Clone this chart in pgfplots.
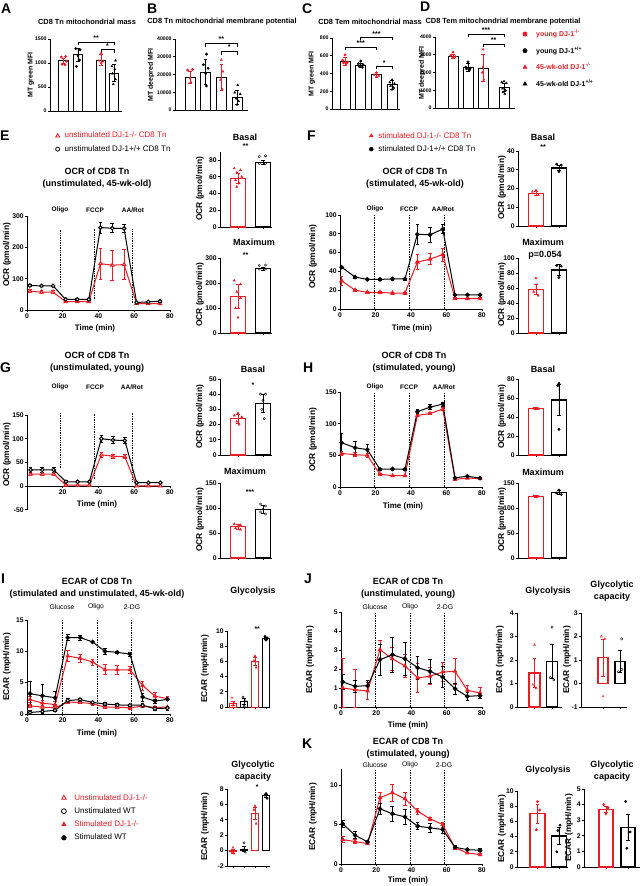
\documentclass[border=0pt]{standalone}
\usepackage{fontspec}
\setmainfont{Liberation Sans}
\usepackage{pgfplots}
\pgfplotsset{compat=1.18}
\definecolor{myred}{RGB}{236,28,36}
\pgfplotsset{
  base/.style={scale only axis, axis x line*=bottom, axis y line*=left, clip=false,
    axis line style={line width=0.9pt}, tick style={line width=0.8pt, black},
    tick align=outside, major tick length=2.2pt, scaled ticks=false,
    /pgf/number format/assume math mode=true, /pgf/number format/1000 sep={},
    tick label style={font=\bfseries\fontsize{6.8}{7}\selectfont, inner sep=1pt}},
  pos/.style n args={4}{at={(#1pt,-#2pt)}, anchor=south west, width=#3pt, height=#4pt},
  eb/.style={error bars/y dir=both, error bars/y explicit,
    error bars/error bar style={line width=0.7pt, solid},
    error bars/error mark options={rotate=90, mark size=1.8pt, line width=0.7pt, solid}},
  lc/.style={base, xmin=0, xmax=80, xtick={0,20,40,60,80}},
  rl/.style={myred, line width=1pt, mark=triangle*, mark size=2pt, eb, forget plot},
  kl/.style={black, line width=1pt, mark=*, mark size=1.8pt, eb, forget plot},
  open/.style={mark options={fill=white}},
  bx/.style={base, xtick={1,2}, xticklabels={}},
  barlw/.style={line width=1.3pt},
  barst/.style={ybar, bar shift=0pt, fill=white, forget plot, eb, barlw},
  pts/.style={only marks, mark size=1.2pt, forget plot},
  sm/.style={tick label style={font=\bfseries\fontsize{5.2}{6}\selectfont}, axis line style={line width=0.7pt}, barlw/.style={line width=0.8pt}},
  lg/.style n args={3}{legend style={draw=none, fill=none, at={(#1,#2)}, anchor=north west, inner sep=0pt, row sep=2pt, font=\fontsize{8}{9}\selectfont, /tikz/every odd column/.append style={column sep=#3}}, legend cell align=left},
}
\newcommand{\PL}[3]{\node[anchor=base west, inner sep=0pt, font=\bfseries\fontsize{14}{14}\selectfont] at (#1pt,-#2pt) {#3};}
\newcommand{\TT}[3]{\node[align=center, font=\bfseries\fontsize{9}{11.5}\selectfont] at (#1pt,-#2pt) {#3};}
\newcommand{\TS}[3]{\node[align=center, font=\bfseries\fontsize{7.4}{9}\selectfont] at (#1pt,-#2pt) {#3};}
\newcommand{\YL}[3]{\node[rotate=90, font=\bfseries\fontsize{8.4}{9}\selectfont] at (#1pt,-#2pt) {#3};}
\newcommand{\YS}[3]{\node[rotate=90, font=\bfseries\fontsize{7}{7}\selectfont] at (#1pt,-#2pt) {#3};}
\newcommand{\XL}[3]{\node[font=\bfseries\fontsize{8}{9}\selectfont] at (#1pt,-#2pt) {#3};}
\newcommand{\SL}[3]{\node[font=\bfseries\fontsize{6.5}{7}\selectfont] at (#1pt,-#2pt) {#3};}
\newcommand{\SR}[3]{\node[font=\fontsize{6.8}{7}\selectfont] at (#1pt,-#2pt) {#3};}
\newcommand{\VD}[3]{\draw[densely dotted, line width=0.7pt] (axis cs:#1,#2) -- (axis cs:#1,#3);}
\newcommand{\ST}[3]{\node[font=\bfseries\fontsize{7}{7}\selectfont] at (axis cs:#1,#2) {#3};}
\newcommand{\BR}[4]{\draw[line width=0.6pt] (axis cs:#1,#4) -- (axis cs:#1,#3) -- (axis cs:#2,#3) -- (axis cs:#2,#4);}
\newcommand{\BAR}[6]{\addplot[barst, bar width=#1pt, draw=#2, error bars/error bar style={#3}] coordinates {(#4,#5) +- (0,#6)};}
\begin{document}
\begin{tikzpicture}
\useasboundingbox (0,0) rectangle (643pt,-886pt);
\fill[white] (0,0) rectangle (643pt,-886pt);
% ---------------- A
\begin{axis}[base, sm, pos={50}{111}{72}{72}, xmin=0.064, xmax=5.05, ymin=0, ymax=1500, ytick={0,500,1000,1500}, xtick=\empty]
\BAR{9.5}{black}{myred}{1}{1047}{60}
\BAR{9.5}{black}{black}{2}{1172}{130}
\BAR{9.5}{black}{myred}{3.6}{1060}{110}
\BAR{9.5}{black}{black}{4.5}{788}{180}
\addplot[pts, mark=*, myred] coordinates {(0.85,1125)(1.15,1135)(0.9,975)(1.1,965)(1.2,1035)};
\addplot[pts, mark=*, black] coordinates {(1.85,1300)(2.15,1275)(2,1150)(2.1,1060)(1.9,930)};
\addplot[pts, mark=triangle*, myred] coordinates {(3.6,1210)(3.45,1050)(3.75,1030)(3.6,1000)};
\addplot[pts, mark=triangle*, black] coordinates {(4.6,1050)(4.35,930)(4.55,870)(4.4,780)(4.6,660)(4.45,560)};
\BR{2}{4.5}{1430}{1370}\ST{3.25}{1510}{**}
\BR{3.6}{4.5}{1277}{1210}\ST{4.05}{1350}{*}
\end{axis}
% ---------------- B
\begin{axis}[base, sm, pos={175}{110}{73}{71}, xmin=0.043, xmax=4.7, ymin=0, ymax=40000, ytick={0,10000,20000,30000,40000}, xtick=\empty]
\BAR{10}{black}{myred}{1}{18490}{3200}
\BAR{10}{black}{black}{2}{21300}{7000}
\BAR{10}{black}{myred}{3}{18500}{7200}
\BAR{10}{black}{black}{4}{7170}{4000}
\addplot[pts, mark=*, myred] coordinates {(0.85,22500)(1.15,22800)(1,18000)(1.05,15500)};
\addplot[pts, mark=*, black] coordinates {(2.05,31500)(1.85,25500)(2.15,23500)(2,20500)(2.05,13500)};
\addplot[pts, mark=triangle*, myred] coordinates {(3,28300)(3.1,21700)(2.95,17000)(3.05,11700)};
\addplot[pts, mark=triangle*, black] coordinates {(4.05,14000)(3.85,9800)(4.2,9000)(3.95,6500)(4.1,5000)(4,3000)};
\BR{2}{4}{37700}{35700}\ST{3}{39900}{**}
\BR{3}{4}{33000}{31000}\ST{3.5}{35200}{*}
\end{axis}
% ---------------- C
\begin{axis}[base, sm, pos={332}{109}{68}{71}, xmin=0.17, xmax=4.5, ymin=0, ymax=800, ytick={0,200,400,600,800}, xtick=\empty]
\BAR{10}{black}{myred}{1}{537}{40}
\BAR{10}{black}{black}{2}{492}{25}
\BAR{10}{black}{myred}{3}{387}{30}
\BAR{10}{black}{black}{4}{274}{50}
\addplot[pts, mark=*, myred] coordinates {(1,610)(0.85,550)(1.15,530)(0.9,520)(1.1,515)};
\addplot[pts, mark=*, black] coordinates {(2,540)(1.85,510)(2.15,500)(1.9,480)(2.1,470)};
\addplot[pts, mark=triangle*, myred] coordinates {(3,410)(2.85,385)(3.15,375)(3,365)};
\addplot[pts, mark=triangle*, black] coordinates {(4,330)(3.85,300)(4.15,285)(3.9,260)(4.1,240)(4,220)};
\BR{1}{3}{699}{665}\ST{2}{740}{***}
\BR{2}{4}{807}{775}\ST{3}{848}{***}
\BR{3}{4}{481}{450}\ST{3.5}{522}{*}
\end{axis}
% ---------------- D
\begin{axis}[base, sm, pos={435}{108}{80}{71}, xmin=-0.2, xmax=5.13, ymin=0, ymax=4000, ytick={0,1000,2000,3000,4000}, xtick=\empty,
  lg={1.095}{1.13}{7pt}, legend style={row sep=4.5pt, font=\bfseries\fontsize{7}{8}\selectfont}]
\BAR{10}{black}{myred}{1}{2911}{120}
\BAR{10}{black}{black}{2}{2291}{200}
\BAR{10}{black}{myred}{3}{2253}{750}
\BAR{10}{black}{black}{4.4}{1164}{250}
\addplot[pts, mark=*, myred] coordinates {(1,3150)(0.85,2950)(1.15,2900)(1,2850)};
\addplot[pts, mark=*, black] coordinates {(2,2600)(1.85,2300)(2.15,2250)(1.9,2200)(2.1,2150)};
\addplot[pts, mark=triangle*, myred] coordinates {(3,3300)(3,2300)(2.95,2000)(3.05,1600)};
\addplot[pts, mark=triangle*, black] coordinates {(4.4,1500)(4.25,1450)(4.55,1400)(4.3,1100)(4.5,1000)(4.35,900)(4.45,800)};
\BR{2}{4.4}{4170}{4000}\ST{3.2}{4390}{***}
\BR{3}{4.4}{3605}{3430}\ST{3.7}{3830}{**}
\addlegendimage{only marks, mark=*, myred, mark size=2.2pt}
\addlegendentry{\textcolor{myred}{young DJ-1\textsuperscript{-/-}}}
\addlegendimage{only marks, mark=*, black, mark size=2.2pt}
\addlegendentry{young DJ-1\textsuperscript{+/+}}
\addlegendimage{only marks, mark=triangle*, myred, mark size=2.4pt}
\addlegendentry{\textcolor{myred}{45-wk-old DJ-1\textsuperscript{-/-}}}
\addlegendimage{only marks, mark=triangle*, black, mark size=2.4pt}
\addlegendentry{45-wk-old DJ-1\textsuperscript{+/+}}
\end{axis}
% ---------------- E line
\begin{axis}[lc, pos={27}{310}{143}{94}, ymin=0, ymax=300, ytick={0,100,200,300}, lg={0.199}{1.915}{3pt}]
\VD{18.5}{75}{258}\VD{37.7}{35}{258}\VD{58.9}{22}{258}
\addplot[rl, open, mark=triangle*] coordinates {(1.6,60)+-(0,5) (8.1,57)+-(0,5) (14.6,57)+-(0,5) (21.6,26.5)+-(0,3) (28.1,26.5)+-(0,3) (34.6,27)+-(0,3) (41.1,148)+-(0,49) (47.7,143)+-(0,47) (54.3,145)+-(0,47) (61.3,21)+-(0,3) (67.8,20)+-(0,3) (74.4,20)+-(0,3)};
\addplot[kl, open] coordinates {(1.6,78)+-(0,3) (8.1,77)+-(0,2) (14.6,77)+-(0,2) (21.6,34)+-(0,3) (28.1,34)+-(0,3) (34.6,34)+-(0,3) (41.1,263)+-(0,17) (47.7,261)+-(0,14) (54.3,260)+-(0,12) (61.3,24)+-(0,3) (67.8,26)+-(0,3) (74.4,28)+-(0,3)};
\addlegendimage{only marks, mark=triangle, myred, mark size=2.2pt, line width=0.8pt}
\addlegendentry{\textcolor{myred}{unstimulated DJ-1-/- CD8 Tn}}
\addlegendimage{only marks, mark=o, black, mark size=2pt, line width=0.8pt}
\addlegendentry{unstimulated DJ-1+/+ CD8 Tn}
\end{axis}
% E Basal
\begin{axis}[bx, pos={220}{227}{52}{75.4}, xmin=0.28, xmax=2.36, ymin=0, ymax=90, ytick={0,20,40,60,80}]
\BAR{15}{myred}{myred}{1}{58}{6}
\BAR{15}{black}{black}{2}{77}{2}
\addplot[pts, mark=triangle*, myred] coordinates {(0.85,70)(1.1,68)(0.95,65)(1.15,60)(0.9,56)(1.05,52)(0.95,48)};
\addplot[pts, mark=o, black] coordinates {(1.85,84)(2.1,85)(1.85,76)(2.1,76)};
\ST{1.3}{97}{**}
\end{axis}
% E Maximum
\begin{axis}[bx, pos={220}{333}{52}{75}, xmin=0.28, xmax=2.36, ymin=0, ymax=300, ytick={0,100,200,300}]
\BAR{15}{myred}{myred}{1}{145}{48}
\BAR{15}{black}{black}{2}{258}{6}
\addplot[pts, mark=triangle*, myred] coordinates {(0.85,210)(1.1,195)(0.95,165)(1.1,140)(0.9,100)(1.0,62)};
\addplot[pts, mark=o, black] coordinates {(1.85,270)(2.1,272)(1.85,256)(2.1,256)};
\ST{1.3}{312}{**}
\end{axis}
% ---------------- F line
\begin{axis}[lc, pos={340}{309}{142}{94}, ymin=0, ymax=100, ytick={0,20,40,60,80,100}, lg={0.205}{1.904}{3pt}]
\VD{19.3}{0}{100}\VD{39}{0}{100}\VD{58.6}{0}{100}
\addplot[rl] coordinates {(0.9,30)+-(0,5) (8.5,20)+-(0,1) (15.4,17.7)+-(0,1) (22.5,17.7)+-(0,1) (29.6,17)+-(0,1) (36.6,17)+-(0,1) (43.6,50)+-(0,8) (50.7,53)+-(0,6) (57.9,58)+-(0,7) (64.8,11)+-(0,1) (71.8,11)+-(0,1) (78.9,11)+-(0,1)};
\addplot[kl] coordinates {(0.9,44.5)+-(0,1) (8.5,34)+-(0,1) (15.4,31.5)+-(0,1) (22.5,31.5)+-(0,1) (29.6,32)+-(0,1) (36.6,32)+-(0,1) (43.6,79.5)+-(0,11) (50.7,79)+-(0,8) (57.9,85)+-(0,5) (64.8,15)+-(0,1) (71.8,15)+-(0,1) (78.9,15)+-(0,1)};
\addlegendimage{only marks, mark=triangle*, myred, mark size=2.2pt}
\addlegendentry{\textcolor{myred}{stimulated DJ-1-/- CD8 Tn}}
\addlegendimage{only marks, mark=*, black, mark size=2pt}
\addlegendentry{stimulated DJ-1+/+ CD8 Tn}
\end{axis}
% F Basal
\begin{axis}[bx, pos={518}{226}{49}{75}, xmin=0.22, xmax=2.35, ymin=0, ymax=40, ytick={0,10,20,30,40}]
\BAR{15}{myred}{myred}{1}{17.5}{1}
\BAR{15}{black}{black}{2}{31}{1.5}
\addplot[pts, mark=triangle*, myred] coordinates {(1,19)(0.85,18.3)(1.1,16.5)};
\addplot[pts, mark=*, black] coordinates {(1.9,33)(2.1,32.5)(2,29)};
\ST{1.31}{42}{**}
\end{axis}
% F Maximum
\begin{axis}[bx, pos={518}{333}{49}{75}, xmin=0.22, xmax=2.35, ymin=0, ymax=100, ytick={0,20,40,60,80,100}]
\BAR{15}{myred}{myred}{1}{58}{7}
\BAR{15}{black}{black}{2}{84}{7}
\addplot[pts, mark=triangle*, myred] coordinates {(1,73)(0.9,55)(1.1,50)};
\addplot[pts, mark=*, black] coordinates {(1.9,90)(2.1,89)(2,74)};
\node[font=\bfseries\fontsize{9}{9}\selectfont] at (axis cs:1.39,104) {p=0.054};
\end{axis}
% ---------------- G line
\begin{axis}[lc, axis x line*=middle, pos={27}{509.7}{143}{94.7}, ymin=-50, ymax=150, ytick={-50,0,50,100,150}, xtick={20,40,60,80}]
\VD{18.5}{38}{155}\VD{37.7}{15}{155}\VD{58.9}{10}{155}
\addplot[rl, open] coordinates {(2,25)+-(0,3) (8.5,25)+-(0,3) (15,25)+-(0,3) (21.8,2)+-(0,1) (28.3,2)+-(0,1) (34.9,2)+-(0,1) (41.6,66)+-(0,5) (48.1,63)+-(0,4) (54.7,62)+-(0,4) (61.3,0.5)+-(0,1) (67.9,0.5)+-(0,1) (74.6,0.5)+-(0,1)};
\addplot[kl, open] coordinates {(2,34)+-(0,5) (8.5,34)+-(0,5) (15,34)+-(0,5) (21.8,9)+-(0,2) (28.3,9)+-(0,2) (34.9,9)+-(0,2) (41.6,100)+-(0,7) (48.1,97)+-(0,7) (54.7,96)+-(0,6) (61.3,7)+-(0,1) (67.9,7)+-(0,1) (74.6,7)+-(0,1)};
\end{axis}
% G Basal
\begin{axis}[bx, pos={220}{455}{52}{76}, xmin=0.28, xmax=2.36, ymin=0, ymax=50, ytick={0,10,20,30,40,50}]
\BAR{15}{myred}{myred}{1}{24}{3}
\BAR{15}{black}{black}{2}{34}{6}
\addplot[pts, mark=triangle*, myred] coordinates {(1,27.5)(0.85,26)(1.15,25)(0.95,22)(1.05,20)};
\addplot[pts, mark=o, black] coordinates {(1.9,40)(2.1,40)(2,36)(1.95,30)(2.05,24)};
\ST{1.6}{46}{*}
\end{axis}
% G Maximum
\begin{axis}[bx, pos={220}{558}{52}{75}, xmin=0.28, xmax=2.36, ymin=0, ymax=150, ytick={0,50,100,150}]
\BAR{15}{myred}{myred}{1}{63}{5}
\BAR{15}{black}{black}{2}{97}{8}
\addplot[pts, mark=triangle*, myred] coordinates {(0.85,68)(1.1,66)(1,63)(0.9,60)(1.1,57)};
\addplot[pts, mark=o, black] coordinates {(1.9,108)(2.1,104)(2,98)(1.9,92)(2.1,88)};
\ST{1.48}{132}{***}
\end{axis}
% ---------------- H line
\begin{axis}[lc, pos={340}{487}{142}{95}, ymin=0, ymax=150, ytick={0,50,100,150}]
\VD{19.5}{0}{150}\VD{39}{0}{150}\VD{58.9}{0}{150}
\addplot[rl, mark size=1.8pt] coordinates {(0.9,53)+-(0,3) (8.5,51)+-(0,3) (15.4,50)+-(0,3) (22.5,20)+-(0,1) (29.6,18)+-(0,1) (36.6,18)+-(0,1) (43.6,113)+-(0,2) (50.7,116)+-(0,2) (57.9,123)+-(0,2) (64.8,12)+-(0,1) (71.8,14)+-(0,1) (78.9,13.5)+-(0,1)};
\addplot[kl] coordinates {(0.9,70)+-(0,14) (8.5,62)+-(0,10) (15.4,59)+-(0,9) (22.5,28)+-(0,1.5) (29.6,28.5)+-(0,1.5) (36.6,28)+-(0,1.5) (43.6,119)+-(0,3) (50.7,126)+-(0,4) (57.9,131)+-(0,3) (64.8,14.5)+-(0,1) (71.8,17)+-(0,1) (78.9,14)+-(0,1)};
\end{axis}
% H Basal
\begin{axis}[bx, pos={518}{455}{49}{76}, xmin=0.22, xmax=2.35, ymin=0, ymax=80, ytick={0,20,40,60,80}]
\BAR{15}{myred}{myred}{1}{49}{1}
\BAR{15}{black}{black}{2}{58}{16}
\addplot[pts, mark=triangle*, myred] coordinates {(1,49.5)(0.9,49)(1.1,48.5)};
\addplot[pts, mark=*, black] coordinates {(2,75.5)(1.95,73)(2,27)};
\end{axis}
% H Maximum
\begin{axis}[bx, pos={518}{558}{49}{75}, xmin=0.22, xmax=2.35, ymin=0, ymax=150, ytick={0,50,100,150}]
\BAR{15}{myred}{myred}{1}{123}{2}
\BAR{15}{black}{black}{2}{131}{4}
\addplot[pts, mark=triangle*, myred] coordinates {(0.9,124)(1.1,123)(1,122)};
\addplot[pts, mark=*, black] coordinates {(2,136)(1.9,130)(2.1,127)};
\end{axis}
% ---------------- I line
\begin{axis}[lc, pos={27}{714}{143}{94}, ymin=0, ymax=15, ytick={0,5,10,15}, lg={0.24}{-0.83}{6pt}]
\VD{20}{0}{15}\VD{39.3}{0}{15}\VD{58.6}{0}{15}
\addplot[rl, open, mark size=1.8pt] coordinates {(1.7,1.3)+-(0,0.3) (8.6,1.1)+-(0,0.3) (15.7,1.0)+-(0,0.2) (22.8,1.9)+-(0,0.2) (29.7,1.85)+-(0,0.2) (36.7,1.65)+-(0,0.2) (43.6,1.1)+-(0,0.2) (50.5,1.1)+-(0,0.2) (57.6,1.0)+-(0,0.2) (64.7,1.25)+-(0,0.2) (71.6,1.05)+-(0,0.2) (78.5,1.1)+-(0,0.2)};
\addplot[kl, open, mark size=1.8pt] coordinates {(1.7,0.25)+-(0,0.3) (8.6,0.4)+-(0,0.3) (15.7,0.6)+-(0,0.2) (22.8,2.15)+-(0,0.3) (29.7,2.3)+-(0,0.2) (36.7,1.85)+-(0,0.2) (43.6,1.6)+-(0,0.2) (50.5,1.45)+-(0,0.2) (57.6,1.4)+-(0,0.2) (64.7,1.4)+-(0,0.3) (71.6,0.85)+-(0,0.3) (78.5,0.95)+-(0,0.3)};
\addplot[rl, mark size=1.8pt] coordinates {(1.7,2.3)+-(0,0.5) (8.6,1.75)+-(0,0.5) (15.7,1.5)+-(0,0.5) (22.8,9.25)+-(0,0.9) (29.7,8.9)+-(0,0.7) (36.7,8.3)+-(0,0.5) (43.6,7.05)+-(0,0.8) (50.5,7.05)+-(0,0.7) (57.6,7.05)+-(0,0.6) (64.7,4.55)+-(0,0.7) (71.6,2.85)+-(0,0.6) (78.5,2.45)+-(0,0.3)};
\addplot[kl, mark size=1.8pt] coordinates {(1.7,3.25)+-(0,1.9) (8.6,2.9)+-(0,1.8) (15.7,2.6)+-(0,1.0) (22.8,12.2)+-(0,0.5) (29.7,12.2)+-(0,0.4) (36.7,11.5)+-(0,0.1) (43.6,10.0)+-(0,0.5) (50.5,9.85)+-(0,0.15) (57.6,9.55)+-(0,0.3) (64.7,2.7)+-(0,0.6) (71.6,2.05)+-(0,0.3) (78.5,2.35)+-(0,0.2)};
\addlegendimage{only marks, mark=triangle, myred, mark size=2.6pt, line width=0.8pt}
\addlegendentry{\textcolor{myred}{Unstimulated DJ-1-/-}}
\addlegendimage{only marks, mark=o, black, mark size=2.4pt, line width=0.8pt}
\addlegendentry{Unstimulated WT}
\addlegendimage{only marks, mark=triangle*, myred, mark size=2.6pt}
\addlegendentry{\textcolor{myred}{Stimulated DJ-1-/-}}
\addlegendimage{only marks, mark=*, black, mark size=2.4pt}
\addlegendentry{Stimulated WT}
\end{axis}
% I Glycolysis
\begin{axis}[base, pos={227}{707}{43}{76}, xmin=0.45, xmax=4.36, ymin=0, ymax=10, ytick={0,2,4,6,8,10}, xtick={1,2,3,4}, xticklabels={}, barlw/.style={line width=1pt}]
\BAR{7}{myred}{myred}{1}{0.5}{0.3}
\BAR{7}{black}{black}{2}{0.7}{0.4}
\BAR{7}{myred}{myred}{3}{6.0}{0.5}
\BAR{7}{black}{black}{4}{9.0}{0.15}
\addplot[pts, mark=triangle, myred] coordinates {(0.9,1.2)(1.1,0.5)(1,0.2)};
\addplot[pts, mark=o, black] coordinates {(1.9,1.3)(2.1,0.8)(2,0.1)};
\addplot[pts, mark=triangle*, myred] coordinates {(3,6.7)(2.9,6.1)(3.1,5.2)};
\addplot[pts, mark=*, black] coordinates {(3.9,9.3)(4.1,9.1)(4,8.8)};
\ST{3.2}{10.3}{**}
\end{axis}
% I Glycolytic capacity
\begin{axis}[base, pos={227}{866}{43}{77}, xmin=0.45, xmax=4.36, ymin=-2, ymax=8, ytick={-2,0,2,4,6,8}, xtick={1,2,3,4}, xticklabels={}, barlw/.style={line width=1pt}]
\BAR{7}{myred}{myred}{1}{-0.1}{0.3}
\BAR{7}{black}{black}{2}{0.2}{0.3}
\BAR{7}{myred}{myred}{3}{4.8}{0.8}
\BAR{7}{black}{black}{4}{7.1}{0.2}
\addplot[pts, mark=triangle, myred] coordinates {(1,0.4)(0.9,-0.2)(1.1,-0.4)};
\addplot[pts, mark=o, black] coordinates {(2,1.0)(1.9,0.1)(2.1,-0.2)};
\addplot[pts, mark=triangle*, myred] coordinates {(3,5.8)(2.9,5.3)(3.1,3.5)};
\addplot[pts, mark=*, black] coordinates {(4,7.4)(3.9,7.2)(4.1,6.8)};
\ST{3.2}{8.3}{*}
\end{axis}
% ---------------- J line
\begin{axis}[lc, pos={341}{707}{141}{95}, ymin=0, ymax=5, ytick={0,1,2,3,4,5}]
\VD{19.3}{0}{5}\VD{39.1}{0}{5}\VD{58.6}{0}{5}
\addplot[rl, mark size=1.8pt] coordinates {(1,1.0) += (0,1.55) -= (0,1.0) (8,0.91) += (0,1.05) -= (0,0.91) (15.1,0.84)+-(0,0.45) (22.1,3.02)+-(0,0.5) (29.1,2.54)+-(0,0.6) (36.3,2.16)+-(0,0.6) (43.5,1.53)+-(0,0.75) (50.5,1.62)+-(0,0.45) (57.7,1.84)+-(0,0.5) (64.7,1.88)+-(0,0.7) (71.7,0.88)+-(0,0.26) (78.9,0.74)+-(0,0.3)};
\addplot[kl] coordinates {(1,1.32)+-(0,0.4) (8,1.09)+-(0,0.3) (15.1,1.12)+-(0,0.3) (22.1,2.49)+-(0,0.8) (29.1,2.75)+-(0,0.9) (36.3,2.54)+-(0,0.85) (43.5,2.07)+-(0,0.6) (50.5,1.88)+-(0,0.65) (57.7,1.58)+-(0,0.55) (64.7,0.96)+-(0,0.3) (71.7,0.56)+-(0,0.2) (78.9,0.6)+-(0,0.13)};
\end{axis}
% J Glycolysis
\begin{axis}[bx, pos={517}{707}{45}{94}, xmin=0, xmax=2.57, ymin=0, ymax=4, ytick={0,1,2,3,4}]
\BAR{11}{myred}{myred}{1}{1.45}{0.62}
\BAR{11}{black}{black}{2}{1.93}{0.72}
\addplot[pts, mark=triangle, myred] coordinates {(1,2.65)(0.9,0.95)(1.1,0.8)};
\addplot[pts, mark=o, black] coordinates {(2,3.4)(1.9,1.25)(2.1,1.15)};
\end{axis}
% J Glycolytic capacity
\begin{axis}[bx, pos={581}{707}{46}{94}, xmin=-0.3, xmax=2.41, ymin=-1, ymax=3, ytick={-1,0,1,2,3}]
\BAR{10}{myred}{myred}{1}{1.1}{0.8}
\BAR{10}{black}{black}{2}{0.95}{0.48}
\addplot[pts, mark=triangle, myred] coordinates {(0.9,2.0)(1.1,1.9)(1,-0.55)};
\addplot[pts, mark=o, black] coordinates {(2.1,1.9)(1.9,0.5)(2.1,0.6)};
\end{axis}
% ---------------- K line
\begin{axis}[lc, pos={341}{864}{141}{94.8}, ymin=0, ymax=12, ytick={0,5,10}]
\VD{19.3}{0}{12}\VD{39.1}{0}{12}\VD{58.6}{0}{12}
\addplot[rl, mark size=1.8pt] coordinates {(1,3.09)+-(0,0.35) (8,2.84)+-(0,0.25) (15.1,2.58)+-(0,0.15) (22.1,8.39)+-(0,0.65) (29.1,9.03)+-(0,1.1) (36.3,8.26)+-(0,0.8) (43.5,6.69)+-(0,0.35) (50.5,5.72)+-(0,0.2) (57.7,5.0)+-(0,0.3) (64.7,2.03)+-(0,0.15) (71.7,1.4)+-(0,0.1) (78.9,1.19)+-(0,0.1)};
\addplot[kl] coordinates {(1,5.08)+-(0,0.5) (8,3.64)+-(0,0.45) (15.1,2.8)+-(0,0.25) (22.1,6.99)+-(0,0.7) (29.1,6.36)+-(0,1.0) (36.3,5.97)+-(0,1.0) (43.5,4.79)+-(0,0.45) (50.5,4.58)+-(0,0.55) (57.7,4.36)+-(0,0.5) (64.7,2.12)+-(0,0.2) (71.7,1.82)+-(0,0.1) (78.9,1.74)+-(0,0.2)};
\end{axis}
% K Glycolysis
\begin{axis}[bx, pos={517}{867}{51}{76}, xmin=0.05, xmax=2.42, ymin=0, ymax=10, ytick={0,2,4,6,8,10}]
\BAR{15}{myred}{myred}{1}{7.0}{1.2}
\BAR{15}{black}{black}{2}{4.1}{1.1}
\addplot[pts, mark=*, myred] coordinates {(1,8.6)(1.1,7.5)(0.95,4.9)};
\addplot[pts, mark=*, black] coordinates {(2.05,5.5)(1.95,4.8)(1.9,2.0)};
\end{axis}
% K Glycolytic capacity
\begin{axis}[bx, pos={584}{867}{56}{78}, xmin=0, xmax=2.55, ymin=0, ymax=5, ytick={0,1,2,3,4,5}]
\BAR{14}{myred}{myred}{1}{3.7}{0.2}
\BAR{14}{black}{black}{2}{2.55}{0.85}
\addplot[pts, mark=*, myred] coordinates {(0.9,4.0)(1.1,3.8)(1,3.4)};
\addplot[pts, mark=*, black] coordinates {(1.9,4.2)(2.1,2.25)(1.95,1.2)};
\end{axis}
% ---------------- texts
\PL{1}{13}{A}\PL{147}{13}{B}\PL{302}{13}{C}\PL{420}{11}{D}
\PL{0}{140}{E}\PL{307}{140}{F}\PL{0}{372}{G}\PL{303}{372}{H}
\PL{1}{583}{I}\PL{304}{583}{J}\PL{302}{748}{K}
\TS{87}{22}{CD8 Tn mitochondrial mass}
\TS{222}{22}{CD8 Tn mitochondrial membrane potential}
\TS{370}{22}{CD8 Tem mitochondrial mass}
\TS{503}{22}{CD8 Tem mitochondrial membrane potential}
\YS{31}{75}{MT green MFI}\YS{151}{75}{MT deepred MFI}
\YS{312}{74}{MT green MFI}\YS{422}{73}{MT deepred MFI}
\TT{97}{178}{OCR of CD8 Tn\\(unstimulated, 45-wk-old)}
\TT{415}{178}{OCR of CD8 Tn\\(stimulated, 45-wk-old)}
\TT{97}{362}{OCR of CD8 Tn\\(unstimulated, young)}
\TT{414}{362}{OCR of CD8 Tn\\(stimulated, young)}
\TT{97}{588}{ECAR of CD8 Tn\\(stimulated and unstimulated, 45-wk-old)}
\TT{408}{588}{ECAR of CD8 Tn\\(unstimulated, young)}
\TT{408}{748}{ECAR of CD8 Tn\\(stimulated, young)}
\TT{245}{137}{Basal}\TT{254}{242}{Maximum}
\TT{543}{137}{Basal}\TT{543}{242}{Maximum}
\TT{253}{369}{Basal}\TT{245}{471}{Maximum}
\TT{543}{369}{Basal}\TT{543}{472}{Maximum}
\TT{253}{591}{Glycolysis}\TT{253}{771}{Glycolytic\\capacity}
\TT{548}{591}{Glycolysis}\TT{612}{591}{Glycolytic\\capacity}
\TT{548}{770}{Glycolysis}\TT{612}{771}{Glycolytic\\capacity}
\YL{7}{255}{OCR (pmol/min)}\YL{313}{257}{OCR (pmol/min)}
\YL{7}{455}{OCR (pmol/min)}\YL{313}{440}{OCR (pmol/min)}
\YL{7}{667}{ECAR (mpH/min)}\YL{310}{660}{ECAR (mpH/min)}\YL{313}{817}{ECAR (mpH/min)}
\YL{200}{189}{OCR (pmol/min)}\YL{200}{295}{OCR (pmol/min)}
\YL{502}{188}{OCR (pmol/min)}\YL{502}{295}{OCR (pmol/min)}
\YL{200}{417}{OCR (pmol/min)}\YL{200}{520}{OCR (pmol/min)}
\YL{502}{417}{OCR (pmol/min)}\YL{502}{520}{OCR (pmol/min)}
\YL{205}{669}{ECAR (mpH/min)}\YL{205}{827}{ECAR (mpH/min)}
\YL{500}{660}{ECAR (mpH/min)}\YL{567}{660}{ECAR (mpH/min)}
\YL{502}{829}{ECAR (mpH/min)}\YL{569}{828}{ECAR (mpH/min)}
\XL{95}{328}{Time (min)}\XL{412}{328}{Time (min)}
\XL{97}{504}{Time (min)}\XL{403}{506}{Time (min)}
\XL{97}{733}{Time (min)}\XL{408}{725}{Time (min)}\XL{408}{880}{Time (min)}
\SL{60}{210}{Oligo}\SL{95}{210}{FCCP}\SL{133}{210}{AA/Rot}
\SL{375}{209}{Oligo}\SL{409}{209}{FCCP}\SL{443}{209}{AA/Rot}
\SL{60}{387}{Oligo}\SL{95}{387}{FCCP}\SL{132}{387}{AA/Rot}
\SL{375}{387}{Oligo}\SL{409}{387}{FCCP}\SL{444}{387}{AA/Rot}
\SR{62}{607}{Glucose}\SR{96}{607}{Oligo}\SR{132}{607}{2-DG}
\SR{375}{607}{Glucose}\SR{410}{607}{Oligo}\SR{445}{607}{2-DG}
\SR{375}{765}{Glucose}\SR{410}{765}{Oligo}\SR{444}{765}{2-DG}
\end{tikzpicture}
\end{document}
